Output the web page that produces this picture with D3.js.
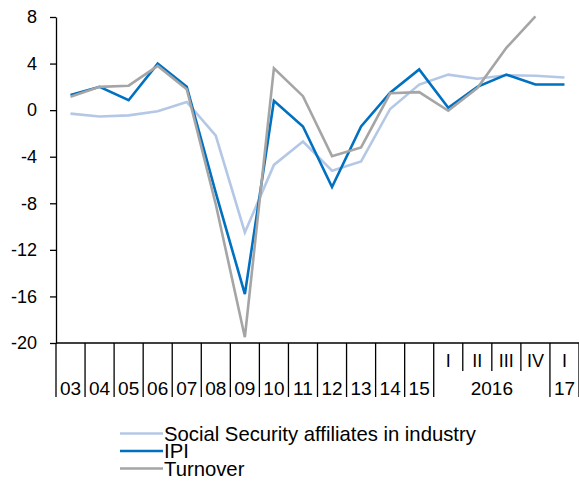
<!DOCTYPE html>
<html><head><meta charset="utf-8">
<script src="https://cdn.jsdelivr.net/npm/d3@7"></script>
<style>body{margin:0;background:#fff}svg{display:block;font-family:"Liberation Sans",Arial,sans-serif}</style>
</head><body><svg id="c" width="579" height="484"></svg>
<script>
const categories = ["03","04","05","06","07","08","09","10","11","12","13","14","15","2016 I","2016 II","2016 III","2016 IV","17 I"];
const quarterLabels = ["","","","","","","","","","","","","","I","II","III","IV","I"];
const yearGroups = [
  {label:"03",from:0,to:0},{label:"04",from:1,to:1},{label:"05",from:2,to:2},{label:"06",from:3,to:3},
  {label:"07",from:4,to:4},{label:"08",from:5,to:5},{label:"09",from:6,to:6},{label:"10",from:7,to:7},
  {label:"11",from:8,to:8},{label:"12",from:9,to:9},{label:"13",from:10,to:10},{label:"14",from:11,to:11},
  {label:"15",from:12,to:12},{label:"2016",from:13,to:16},{label:"17",from:17,to:17}
];
const socialSecurity = [-0.3,-0.55,-0.45,-0.1,0.7,-2.2,-10.5,-4.7,-2.7,-5.2,-4.4,0.1,2.2,3.05,2.7,3.0,2.95,2.8];
const ipi = [1.3,2.0,0.85,4.0,2.0,-7.1,-15.8,0.8,-1.4,-6.6,-1.4,1.5,3.5,0.2,2.0,3.05,2.2,2.2];
const turnover = [1.15,2.0,2.1,3.8,1.8,-8.1,-19.5,3.6,1.2,-3.95,-3.2,1.45,1.55,-0.05,1.9,5.35,8.05,null];
const yTicks = [8,4,0,-4,-8,-12,-16,-20];
const seriesNames = ["Social Security affiliates in industry","IPI","Turnover"];
const seriesColors = ["#b4c8e6","#0070c0","#a5a5a5"];

(function(){
const svg = d3.select("#c");
const mLeft = 56, mRight = 579, mTop = 17, mBottom = 343;
const x = d3.scaleBand().domain(d3.range(categories.length)).range([mLeft, mRight]).padding(0);
const y = d3.scaleLinear().domain([-20, 8]).range([mBottom, mTop]);

const yAxis = d3.axisLeft(y).tickValues(yTicks).tickSize(6).tickSizeOuter(0).tickFormat(d => String(d));
const ga = svg.append("g").attr("transform", `translate(${mLeft},0)`).call(yAxis);
ga.select(".domain").attr("stroke", "#000").attr("stroke-width", 1.3);
ga.selectAll(".tick line").attr("stroke", "#000").attr("stroke-width", 1.3);
ga.selectAll(".tick text").attr("font-size", 18).attr("fill", "#000").attr("x", -19).attr("font-family", "Liberation Sans, Arial, sans-serif");

svg.append("line").attr("x1", mLeft).attr("x2", mRight).attr("y1", mBottom).attr("y2", mBottom).attr("stroke", "#000").attr("stroke-width", 1.3);
d3.range(categories.length + 1).forEach(i => {
  const bx = i < categories.length ? x(i) : x(categories.length - 1) + x.bandwidth();
  const isLong = yearGroups.some(g => g.from === i) || i === categories.length;
  svg.append("line").attr("x1", bx).attr("x2", bx).attr("y1", mBottom).attr("y2", isLong ? 397 : 371)
    .attr("stroke", "#000").attr("stroke-width", 1.3);
});
quarterLabels.forEach((q, i) => {
  if (!q) return;
  svg.append("text").attr("x", x(i) + x.bandwidth() / 2).attr("y", 367).attr("text-anchor", "middle")
    .attr("font-size", 18).text(q);
});
yearGroups.forEach(g => {
  const cx = (x(g.from) + x(g.to) + x.bandwidth()) / 2;
  svg.append("text").attr("x", cx).attr("y", 395).attr("text-anchor", "middle").attr("font-size", 19).text(g.label);
});

const line = d3.line().defined(d => d != null).x((d, i) => x(i) + x.bandwidth() / 2).y(d => y(d));
[socialSecurity, ipi, turnover].forEach((s, k) => {
  svg.append("path").datum(s).attr("d", line).attr("fill", "none").attr("stroke", seriesColors[k])
    .attr("stroke-width", 2.6).attr("stroke-linejoin", "miter");
});

const legY = [433.5, 451, 468.5];
seriesNames.forEach((n, k) => {
  svg.append("line").attr("x1", 120).attr("x2", 163).attr("y1", legY[k]).attr("y2", legY[k])
    .attr("stroke", seriesColors[k]).attr("stroke-width", 2.6);
  svg.append("text").attr("x", 164).attr("y", legY[k] + 7).attr("font-size", 20.3).text(n);
});
})();
</script></body></html>
